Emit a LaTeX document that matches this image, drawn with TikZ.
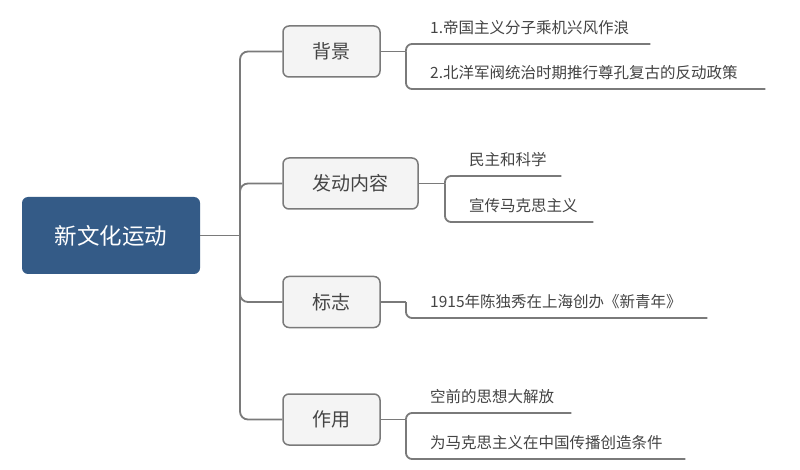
\documentclass[tikz,border=0pt]{standalone}
\usepackage{fontspec}
\setmainfont{Noto Sans CJK SC}
\definecolor{rootblue}{HTML}{345B87}
\definecolor{linegray}{HTML}{7A7A7A}
\definecolor{boxfill}{HTML}{F4F4F4}
\definecolor{txtgray}{HTML}{444444}
\begin{document}
\begin{tikzpicture}[x=1pt,y=-1pt,
  conn/.style={draw=linegray, line width=1.8pt},
  rootbox/.style={fill=rootblue, rounded corners=6pt, minimum width=178pt, minimum height=77pt, text=white, font=\fontsize{22.5}{26}\selectfont, inner sep=0pt},
  branch/.style={draw=linegray, line width=1.5pt, fill=boxfill, rounded corners=6pt, minimum height=51pt, text=txtgray, font=\fontsize{19}{22}\selectfont, inner sep=0pt},
  leaf/.style={anchor=south west, inner xsep=0pt, inner ysep=6pt, text height=11pt, text depth=4pt, align=left, text=txtgray, font=\fontsize{15.5}{18}\selectfont},
]
\useasboundingbox (0,0) rectangle (800,470);
\fill[white] (0,0) rectangle (800,470);

\node[rootbox] (root) at (111,235.5) {新文化运动};
\coordinate (t) at (240,235.5);

\node[branch, minimum width=97pt] (b1) at (331.5,51.5) {背景};
\node[branch, minimum width=135pt] (b2) at (350.5,183.5) {发动内容};
\node[branch, minimum width=97pt] (b3) at (331.5,302) {标志};
\node[branch, minimum width=97pt] (b4) at (331.5,419.5) {作用};

% leaves
\node[leaf, text width=244pt] (l11) at (406,44) {\hspace*{24pt}1.帝国主义分子乘机兴风作浪};
\node[leaf, text width=359pt] (l12) at (406,89) {\hspace*{24pt}2.北洋军阀统治时期推行尊孔复古的反动政策};
\node[leaf, text width=116pt] (l21) at (445,176) {\hspace*{24pt}民主和科学};
\node[leaf, text width=148pt] (l22) at (445,222) {\hspace*{24pt}宣传马克思主义};
\node[leaf, text width=301pt] (l31) at (406,318) {\hspace*{24pt}1915年陈独秀在上海创办《新青年》};
\node[leaf, text width=165pt] (l41) at (406,413) {\hspace*{24pt}空前的思想大解放};
\node[leaf, text width=279pt] (l42) at (406,459) {\hspace*{24pt}为马克思主义在中国传播创造条件};

% trunk
\draw[conn] (root.east) -- (t);
\draw[conn, rounded corners=8pt] (b1.west) -| (t) |- (b4.west);
\draw[conn, rounded corners=8pt] (t) |- (b2.west);
\draw[conn, rounded corners=8pt] (t) |- (b3.west);

% branch to leaves
\draw[conn] (b1.east) -- (b1.east -| l11.south west);
\draw[conn, rounded corners=6pt] (b1.east -| l11.south west) |- (l11.south east);
\draw[conn, rounded corners=6pt] (b1.east -| l12.south west) |- (l12.south east);

\draw[conn] (b2.east) -- (b2.east -| l21.south west);
\draw[conn, rounded corners=6pt] (b2.east -| l21.south west) |- (l21.south east);
\draw[conn, rounded corners=6pt] (b2.east -| l22.south west) |- (l22.south east);

\draw[conn] (b3.east) -- (b3.east -| l31.south west);
\draw[conn, rounded corners=6pt] (b3.east -| l31.south west) |- (l31.south east);

\draw[conn] (b4.east) -- (b4.east -| l41.south west);
\draw[conn, rounded corners=6pt] (b4.east -| l41.south west) |- (l41.south east);
\draw[conn, rounded corners=6pt] (b4.east -| l42.south west) |- (l42.south east);
\end{tikzpicture}
\end{document}
